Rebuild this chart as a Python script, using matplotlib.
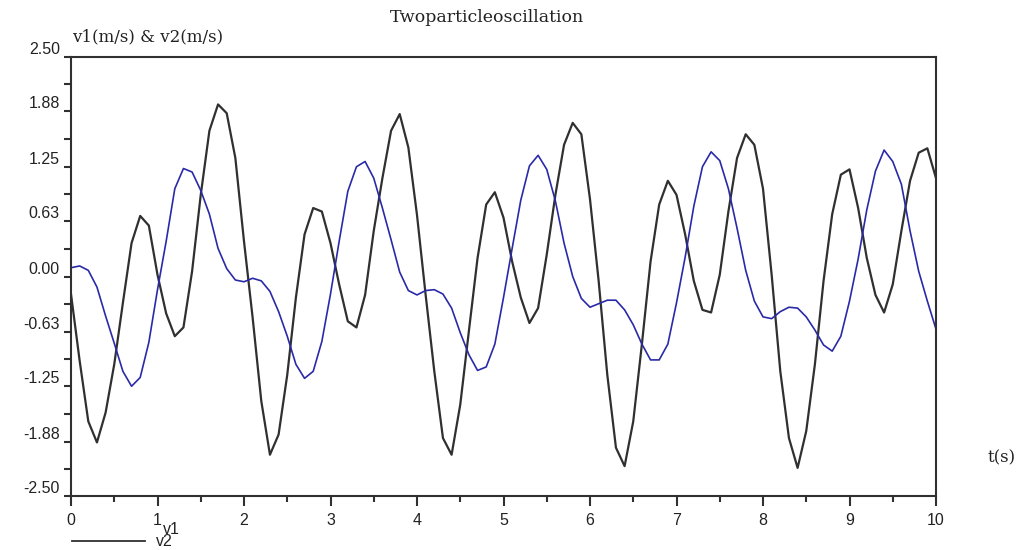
import numpy as np
import matplotlib
matplotlib.use("Agg")
import matplotlib.pyplot as plt
from matplotlib.lines import Line2D

t = [round(0.1 * i, 1) for i in range(101)]

v1 = [-0.20, -0.96, -1.65, -1.89, -1.55, -1.00, -0.30, 0.38, 0.69, 0.58,
      0.02, -0.42, -0.68, -0.58, 0.06, 0.93, 1.66, 1.96, 1.86, 1.35,
      0.40, -0.47, -1.42, -2.03, -1.80, -1.12, -0.24, 0.48, 0.78, 0.74,
      0.38, -0.09, -0.51, -0.58, -0.21, 0.52, 1.12, 1.66, 1.85, 1.47,
      0.70, -0.21, -1.08, -1.84, -2.03, -1.46, -0.62, 0.21, 0.82, 0.96,
      0.67, 0.17, -0.24, -0.53, -0.36, 0.25, 0.93, 1.50, 1.75, 1.62,
      0.88, -0.05, -1.12, -1.95, -2.16, -1.65, -0.77, 0.17, 0.82, 1.09,
      0.93, 0.48, -0.05, -0.38, -0.41, 0.02, 0.74, 1.35, 1.62, 1.50,
      1.00, 0.02, -1.08, -1.84, -2.18, -1.76, -1.00, -0.05, 0.71, 1.16,
      1.22, 0.78, 0.21, -0.21, -0.41, -0.09, 0.52, 1.09, 1.41, 1.46,
      1.12]

v2 = [0.10, 0.12, 0.07, -0.12, -0.45, -0.76, -1.08, -1.25, -1.15, -0.75,
      -0.15, 0.40, 1.00, 1.23, 1.19, 0.98, 0.71, 0.32, 0.09, -0.04,
      -0.06, -0.02, -0.05, -0.17, -0.40, -0.68, -1.00, -1.16, -1.08, -0.74,
      -0.20, 0.40, 0.97, 1.25, 1.31, 1.12, 0.78, 0.42, 0.05, -0.16,
      -0.21, -0.16, -0.15, -0.20, -0.36, -0.64, -0.89, -1.07, -1.03, -0.77,
      -0.24, 0.32, 0.87, 1.26, 1.38, 1.22, 0.86, 0.38, 0.00, -0.25,
      -0.35, -0.31, -0.27, -0.27, -0.38, -0.55, -0.77, -0.95, -0.95, -0.77,
      -0.30, 0.22, 0.80, 1.25, 1.42, 1.32, 1.00, 0.55, 0.07, -0.28,
      -0.46, -0.48, -0.40, -0.35, -0.36, -0.46, -0.61, -0.78, -0.85, -0.68,
      -0.28, 0.20, 0.76, 1.20, 1.44, 1.31, 1.05, 0.52, 0.06, -0.28,
      -0.60]

yticks = [-2.50, -1.88, -1.25, -0.63, 0.00, 0.63, 1.25, 1.88, 2.50]
ytick_labels = ["-2.50", "-1.88", "-1.25", "-0.63", "0.00", "0.63", "1.25", "1.88", "2.50"]
xticks = list(range(0, 11))
xtick_labels = [str(i) for i in xticks]

title = "Twoparticleoscillation"
ylabel = "v1(m/s) & v2(m/s)"
xlabel = "t(s)"
legend_labels = ["v1", "v2"]

# ---- figure ----
W, H = 1026, 550
fig = plt.figure(figsize=(W / 100, H / 100), dpi=100)
fig.patch.set_facecolor("white")

def fx(px):
    return px / W

def fy(py):
    return 1 - py / H

ax = fig.add_axes([fx(71), fy(496), fx(936) - fx(71), fy(57) - fy(496)])

ax.plot(t, v1, color="#303030", lw=1.6)
ax.plot(t, v2, color="#2a2aa8", lw=1.2)

ax.set_xlim(0, 10)
ax.set_ylim(-2.5, 2.5)

for s in ax.spines.values():
    s.set_color("#303030")
    s.set_linewidth(1.5)

ax.set_xticks(xticks)
ax.set_xticklabels(xtick_labels)
ax.set_xticks([i + 0.5 for i in range(10)], minor=True)
ax.set_yticks(yticks)
ax.set_yticklabels(ytick_labels)
ax.set_yticks([-2.5 + 0.3125 * (2 * i + 1) for i in range(8)], minor=True)

ax.tick_params(axis="x", which="major", direction="out", length=7, width=1.5,
               color="#303030", pad=5, labelsize=11.5, labelcolor="#222222")
ax.tick_params(axis="x", which="minor", direction="out", length=4, width=1.5,
               color="#303030")
ax.tick_params(axis="y", which="both", direction="out", length=5, width=1.5,
               color="#303030", pad=3, labelsize=11.5, labelcolor="#222222")
for lab in ax.get_xticklabels() + ax.get_yticklabels():
    lab.set_family("Liberation Sans")
for lab in ax.get_yticklabels():
    lab.set_verticalalignment("bottom")

# ---- texts ----
serif = ["DejaVu Serif"]
fig.text(fx(487), fy(17), title, ha="center", va="center", family=serif,
         fontsize=12.5, color="#222222")
fig.text(fx(72), fy(37), ylabel, ha="left", va="center", family=serif,
         fontsize=12, color="#222222")
fig.text(fx(1002), fy(458), xlabel, ha="center", va="center", family=serif,
         fontsize=12, color="#222222")

# ---- legend below the axes ----
fig.add_artist(Line2D([fx(72), fx(145)], [fy(541), fy(541)], color="#303030",
                      lw=1.3, transform=fig.transFigure))
fig.text(fx(163), fy(529), legend_labels[0], ha="left", va="center",
         family="Liberation Sans", fontsize=11.5, color="#222222")
fig.text(fx(156), fy(542), legend_labels[1], ha="left", va="center",
         family="Liberation Sans", fontsize=11.5, color="#222222")

fig.savefig("out.png", dpi=100)
